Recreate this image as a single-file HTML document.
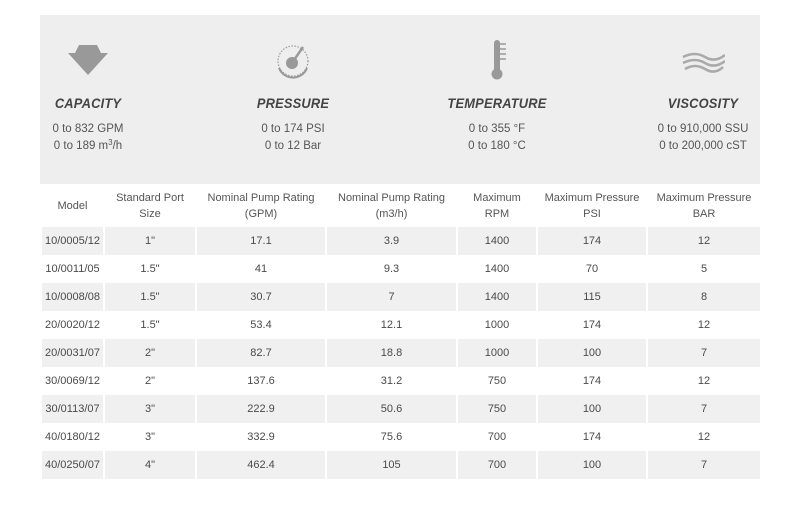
<!DOCTYPE html>
<html><head><style>
body{margin:0;width:800px;height:505px;background:#fff;font-family:"Liberation Sans",sans-serif;color:#555;position:relative;overflow:hidden}
.panel{position:absolute;left:40px;top:15px;width:720px;height:169px;background:#eeeeee}
.f{position:absolute;top:0;width:180px;text-align:center}
.f svg{position:absolute;left:70px;top:25px}
.f h3{position:absolute;top:80px;width:100%;margin:0;font-size:14px;font-style:italic;font-weight:bold;color:#444;letter-spacing:0.2px;transform:scaleX(0.92)}
.f p{position:absolute;top:106px;width:100%;margin:0;font-size:11.5px;line-height:17px;color:#555}
sup{font-size:8px;line-height:0;vertical-align:4px}
table{position:absolute;left:40px;top:184px;width:720px;border-collapse:collapse;table-layout:fixed;font-size:11px}
td{text-align:center;border-left:2px solid #fff;border-right:2px solid #fff;padding:0;height:28px;color:#4a4a4a}
tr.h td{height:43px;line-height:16px;color:#555}
tr:nth-child(even) td{background:#f0f0f0}
</style></head><body>
<div class="panel">
 <div class="f" style="left:-42px">
  <svg width="40" height="40" viewBox="0 0 40 40" style="top:28px"><polygon points="11,2 29,2 33,10 40,10 20,32 0,10 7,10" fill="#999"/></svg>
  <h3>CAPACITY</h3><p>0 to 832 GPM<br>0 to 189 m<sup>3</sup>/h</p></div>
 <div class="f" style="left:163px">
  <svg width="40" height="40" viewBox="0 0 40 40" style="top:26px"><circle cx="20" cy="20" r="15" fill="none" stroke="#999" stroke-width="1.2" stroke-dasharray="1.5 1.5"/><path d="M6 27 A15 15 0 0 0 34 27" fill="none" stroke="#999" stroke-width="2"/><circle cx="19" cy="22" r="6" fill="#999"/><line x1="19" y1="22" x2="30" y2="6" stroke="#999" stroke-width="2.5"/></svg>
  <h3>PRESSURE</h3><p>0 to 174 PSI<br>0 to 12 Bar</p></div>
 <div class="f" style="left:367px">
  <svg width="40" height="44" viewBox="0 0 40 44" style="top:24px"><rect x="17" y="1" width="6" height="32" rx="3" fill="#999"/><circle cx="20" cy="35" r="5.5" fill="#999"/><g stroke="#999" stroke-width="1.5"><line x1="23" y1="5" x2="29" y2="5"/><line x1="23" y1="10" x2="29" y2="10"/><line x1="23" y1="15" x2="29" y2="15"/><line x1="23" y1="20" x2="29" y2="20"/></g></svg>
  <h3>TEMPERATURE</h3><p>0 to 355 °F<br>0 to 180 °C</p></div>
 <div class="f" style="left:573px">
  <svg width="44" height="40" viewBox="0 0 44 40" style="left:68px;top:28px"><g fill="none" stroke="#aaa" stroke-width="2.5"><path d="M2 14 Q14 8 24 14 T44 12"/><path d="M2 20 Q14 14 24 20 T44 18"/><path d="M4 26 Q14 20 24 26 T42 24"/></g></svg>
  <h3>VISCOSITY</h3><p>0 to 910,000 SSU<br>0 to 200,000 cST</p></div>
</div>
<table>
<colgroup><col style="width:63px"><col style="width:92px"><col style="width:130px"><col style="width:131px"><col style="width:80px"><col style="width:110px"><col style="width:114px"></colgroup>
<tr class="h"><td>Model</td><td>Standard Port<br>Size</td><td>Nominal Pump Rating<br>(GPM)</td><td>Nominal Pump Rating<br>(m3/h)</td><td>Maximum<br>RPM</td><td>Maximum Pressure<br>PSI</td><td>Maximum Pressure<br>BAR</td></tr>
<tr><td>10/0005/12</td><td>1"</td><td>17.1</td><td>3.9</td><td>1400</td><td>174</td><td>12</td></tr>
<tr><td>10/0011/05</td><td>1.5"</td><td>41</td><td>9.3</td><td>1400</td><td>70</td><td>5</td></tr>
<tr><td>10/0008/08</td><td>1.5"</td><td>30.7</td><td>7</td><td>1400</td><td>115</td><td>8</td></tr>
<tr><td>20/0020/12</td><td>1.5"</td><td>53.4</td><td>12.1</td><td>1000</td><td>174</td><td>12</td></tr>
<tr><td>20/0031/07</td><td>2"</td><td>82.7</td><td>18.8</td><td>1000</td><td>100</td><td>7</td></tr>
<tr><td>30/0069/12</td><td>2"</td><td>137.6</td><td>31.2</td><td>750</td><td>174</td><td>12</td></tr>
<tr><td>30/0113/07</td><td>3"</td><td>222.9</td><td>50.6</td><td>750</td><td>100</td><td>7</td></tr>
<tr><td>40/0180/12</td><td>3"</td><td>332.9</td><td>75.6</td><td>700</td><td>174</td><td>12</td></tr>
<tr><td>40/0250/07</td><td>4"</td><td>462.4</td><td>105</td><td>700</td><td>100</td><td>7</td></tr>
</table>
</body></html>
